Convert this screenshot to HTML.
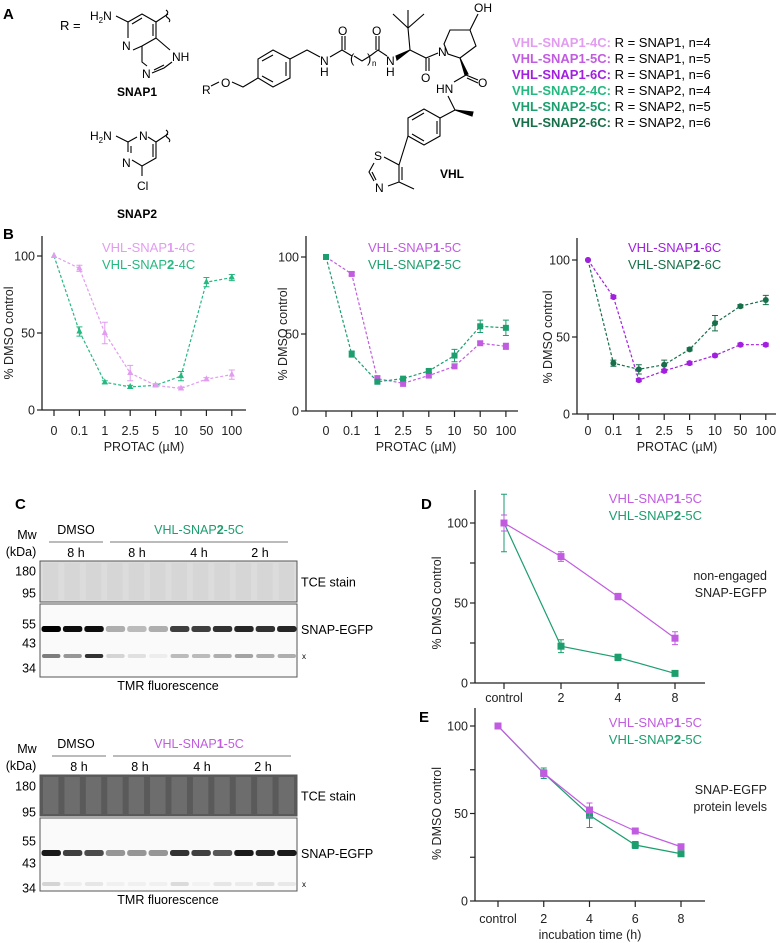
<!DOCTYPE html>
<html><head><meta charset="utf-8"><style>
html,body{margin:0;padding:0;background:#fff;}
svg{display:block;font-family:"Liberation Sans",Arial,sans-serif;}
</style></head><body>
<svg id="fig" width="780" height="943" viewBox="0 0 780 943">
<!-- Panel A -->
<g fill="none" stroke="#000" stroke-width="1.1">
<text x="3" y="19" font-size="15" font-weight="bold" fill="#000" stroke="none">A</text>
<text x="60" y="30" font-size="13" fill="#000" stroke="none">R =</text>
<!-- SNAP1 -->
<text x="90" y="20" font-size="12" fill="#000" stroke="none">H<tspan font-size="8" dy="3">2</tspan><tspan dy="-3">N</tspan></text>
<polyline points="116,16 128,22 128,38"/>
<polyline points="128,22 142,14 156,22 156,38 142,46"/>
<line x1="132" y1="24" x2="142" y2="18"/>
<line x1="153" y1="24" x2="153" y2="36"/>
<text x="122" y="50" font-size="12" fill="#000" stroke="none">N</text>
<polyline points="133,50 142,46"/>
<polyline points="142,46 142,62 147,66"/>
<polyline points="156,38 170,50"/>
<text x="172" y="61" font-size="12" fill="#000" stroke="none">NH</text>
<text x="142" y="78" font-size="12" fill="#000" stroke="none">N</text>
<polyline points="152,73 164,68 172,62"/>
<line x1="154" y1="70" x2="164" y2="65"/>
<path d="M156,22 L168,14 M166,10 q3,2 1,4 q-2,2 1,4 q3,2 1,4"/>
<text x="117" y="96" font-size="12" font-weight="bold" fill="#000" stroke="none">SNAP1</text>
<!-- SNAP2 -->
<text x="90" y="140" font-size="12" fill="#000" stroke="none">H<tspan font-size="8" dy="3">2</tspan><tspan dy="-3">N</tspan></text>
<polyline points="116,136 128,142 128,152"/>
<text x="139" y="140" font-size="12" fill="#000" stroke="none">N</text>
<polyline points="128,142 137,137"/>
<polyline points="148,137 156,142 156,158 142,166 132,160"/>
<line x1="153" y1="144" x2="153" y2="157"/>
<line x1="131" y1="146" x2="131" y2="153"/>
<text x="122" y="167" font-size="12" fill="#000" stroke="none">N</text>
<line x1="142" y1="166" x2="142" y2="176"/>
<text x="137" y="190" font-size="12" fill="#000" stroke="none">Cl</text>
<path d="M156,142 L168,134 M166,130 q3,2 1,4 q-2,2 1,4 q3,2 1,4"/>
<text x="117" y="218" font-size="12" font-weight="bold" fill="#000" stroke="none">SNAP2</text>
<!-- VHL linker -->
<text x="202" y="94" font-size="12" fill="#000" stroke="none">R</text>
<text x="221" y="87" font-size="12" fill="#000" stroke="none">O</text>
<polyline points="211,86 219,82"/>
<polyline points="232,82 243,87 258,78"/>
<polygon points="273,50 290,59 290,78 273,87 258,78 258,59"/>
<line x1="262" y1="61" x2="273" y2="55"/><line x1="286" y1="62" x2="286" y2="76"/><line x1="262" y1="76" x2="273" y2="82"/>
<polyline points="290,59 307,50 320,57"/>
<text x="320" y="65" font-size="12" fill="#000" stroke="none">N</text>
<text x="320" y="76" font-size="12" fill="#000" stroke="none">H</text>
<polyline points="330,57 342,50 352,56"/>
<line x1="342" y1="50" x2="342" y2="36"/><line x1="345" y1="50" x2="345" y2="36"/>
<text x="338" y="35" font-size="12" fill="#000" stroke="none">O</text>
<text x="350" y="63" font-size="13" fill="#000" stroke="none">(</text>
<polyline points="354,56 362,61 370,56"/>
<text x="367" y="63" font-size="13" fill="#000" stroke="none">)</text>
<text x="372" y="66" font-size="8" fill="#000" stroke="none">n</text>
<polyline points="370,56 378,50 387,56"/>
<line x1="376" y1="50" x2="376" y2="36"/><line x1="379" y1="50" x2="379" y2="36"/>
<text x="372" y="35" font-size="12" fill="#000" stroke="none">O</text>
<text x="386" y="65" font-size="12" fill="#000" stroke="none">N</text>
<text x="386" y="76" font-size="12" fill="#000" stroke="none">H</text>
<polygon points="396,56 410,50 397,60" fill="#000"/>
<polyline points="410,50 408,28"/>
<polyline points="393,14 408,28 424,14"/><line x1="408" y1="28" x2="408" y2="10"/>
<polyline points="410,50 426,58 438,53"/>
<line x1="426" y1="58" x2="426" y2="71"/><line x1="429" y1="58" x2="429" y2="71"/>
<text x="421" y="82" font-size="12" fill="#000" stroke="none">O</text>
<text x="438" y="56" font-size="12" fill="#000" stroke="none">N</text>
<polygon points="444,44 450,30 470,30 476,46 460,58 448,54"/>
<polyline points="470,30 478,14"/>
<text x="474" y="12" font-size="12" fill="#000" stroke="none">OH</text>
<polygon points="460,58 465,75 468,74" fill="#000"/>
<polyline points="466,75 478,80"/><line x1="467" y1="78" x2="478" y2="83"/>
<text x="478" y="87" font-size="12" fill="#000" stroke="none">O</text>
<text x="436" y="93" font-size="12" fill="#000" stroke="none">HN</text>
<polyline points="466,75 454,82"/>
<polyline points="448,96 455,110 440,118"/>
<polygon points="455,110 473,112 472,116" fill="#000"/>
<polygon points="440,118 440,136 424,145 408,136 408,118 424,109"/>
<line x1="424" y1="113" x2="412" y2="120"/><line x1="437" y1="121" x2="437" y2="134"/><line x1="412" y1="134" x2="424" y2="141"/>
<polyline points="408,136 399,165"/>
<text x="374" y="160" font-size="12" fill="#000" stroke="none">S</text>
<polyline points="384,157 399,165 399,182 388,186"/>
<line x1="402" y1="167" x2="402" y2="180"/>
<polyline points="374,163 369,172 374,181"/>
<line x1="372" y1="172" x2="376" y2="180"/>
<text x="375" y="192" font-size="12" fill="#000" stroke="none">N</text>
<polyline points="399,182 414,189"/>
<text x="440" y="178" font-size="12" font-weight="bold" fill="#000" stroke="none">VHL</text>
</g>
<g font-size="13">
<text x="512" y="47"><tspan font-weight="bold" fill="#e29cf0">VHL-SNAP1-4C:</tspan> R = SNAP1, n=4</text>
<text x="512" y="63"><tspan font-weight="bold" fill="#c15ce0">VHL-SNAP1-5C:</tspan> R = SNAP1, n=5</text>
<text x="512" y="79"><tspan font-weight="bold" fill="#a21fe0">VHL-SNAP1-6C:</tspan> R = SNAP1, n=6</text>
<text x="512" y="95"><tspan font-weight="bold" fill="#25b880">VHL-SNAP2-4C:</tspan> R = SNAP2, n=4</text>
<text x="512" y="111"><tspan font-weight="bold" fill="#1c9e6e">VHL-SNAP2-5C:</tspan> R = SNAP2, n=5</text>
<text x="512" y="127"><tspan font-weight="bold" fill="#176f4a">VHL-SNAP2-6C:</tspan> R = SNAP2, n=6</text>
</g>
<text x="3" y="239" font-size="15" font-weight="bold">B</text>
<text x="15" y="509" font-size="15" font-weight="bold">C</text>
<text x="421" y="509" font-size="15" font-weight="bold">D</text>
<text x="419" y="722" font-size="15" font-weight="bold">E</text>
<g id="charts"></g>
<g id="blots"></g>
</svg>
<script>
// ---- Panel B data ----
const bCats = ["0","0.1","1","2.5","5","10","50","100"];
const b1Snap1 = [100, 92, 50, 24, 16, 14, 20, 23];
const b1Snap1Err = [0, 2, 7, 5, 1, 1, 1, 3];
const b1Snap2 = [100, 51, 18, 15, 16, 22, 83, 86];
const b1Snap2Err = [0, 3, 1, 1, 1, 3, 3, 2];
const b2Snap1 = [100, 89, 21, 18, 23, 29, 44, 42];
const b2Snap1Err = [0, 1, 2, 2, 1, 1, 1, 2];
const b2Snap2 = [100, 37, 19, 21, 26, 36, 55, 54];
const b2Snap2Err = [0, 2, 1, 1, 1, 4, 4, 5];
const b3Snap1 = [100, 76, 22, 28, 33, 38, 45, 45];
const b3Snap1Err = [0, 1, 1, 1, 1, 1, 1, 1];
const b3Snap2 = [100, 33, 29, 32, 42, 59, 70, 74];
const b3Snap2Err = [0, 2, 3, 3, 1, 5, 1, 3];
const bTicks = [0, 50, 100];
// ---- Panel D data ----
const dCats = ["control","2","4","8"];
const dSnap1 = [100, 79, 54, 28];
const dSnap1Err = [5, 3, 2, 4];
const dSnap2 = [100, 23, 16, 6];
const dSnap2Err = [18, 4, 2, 1];
// ---- Panel E data ----
const eCats = ["control","2","4","6","8"];
const eSnap1 = [100, 73, 52, 40, 31];
const eSnap1Err = [0, 2, 4, 1, 1];
const eSnap2 = [100, 73, 49, 32, 27];
const eSnap2Err = [0, 3, 7, 2, 1];
const deTicks = [0, 50, 100];
const deMinor = [25, 75];

const NS = "http://www.w3.org/2000/svg";
const charts = document.getElementById('charts');
function mk(tag, attrs, parent, txt){
  const e = document.createElementNS(NS, tag);
  for (const k in attrs) e.setAttribute(k, attrs[k]);
  if (txt !== undefined) e.textContent = txt;
  parent.appendChild(e);
  return e;
}
function marker(g, shape, x, y, color, s){
  let m;
  if (shape === 'sq') m = mk('rect', {x:x-s, y:y-s, width:2*s, height:2*s, fill:color}, g);
  else if (shape === 'tri') m = mk('polygon', {points:`${x},${y-s-1} ${x+s},${y+s-1} ${x-s},${y+s-1}`, fill:color}, g);
  else m = mk('circle', {cx:x, cy:y, r:s, fill:color}, g);
  
  
}
function chart(cfg){
  const g = mk('g', {}, charts);
  
  
  const yS = v => cfg.y0 - (v / 100) * (cfg.y0 - cfg.y100);
  const xS = i => cfg.xFirst + i * cfg.xStep;
  const ya = mk('line', {x1:cfg.ax, y1:cfg.yTop, x2:cfg.ax, y2:cfg.y0, stroke:'#222', 'stroke-width':1.3}, g);
   
  const xa = mk('line', {x1:cfg.ax, y1:cfg.y0, x2:cfg.xEnd, y2:cfg.y0, stroke:'#222', 'stroke-width':1.3}, g);
   
  cfg.ticks.forEach(t => {
    mk('line', {x1:cfg.ax-5, y1:yS(t), x2:cfg.ax, y2:yS(t), stroke:'#222', 'stroke-width':1.2}, g);
    const tl = mk('text', {x:cfg.ax-7, y:yS(t)+4.5, 'text-anchor':'end', 'font-size':12.5, fill:'#222'}, g, String(t));
     
  });
  (cfg.minor||[]).forEach(t => mk('line', {x1:cfg.ax-5, y1:yS(t), x2:cfg.ax, y2:yS(t), stroke:'#222', 'stroke-width':1.2}, g));
  cfg.cats.forEach((c, i) => {
    mk('line', {x1:xS(i), y1:cfg.y0, x2:xS(i), y2:cfg.y0+6, stroke:'#222', 'stroke-width':1.2}, g);
    const xl = mk('text', {x:xS(i), y:cfg.xLabY, 'text-anchor':'middle', 'font-size':12.5, fill:'#222'}, g, c);
     
  });
  if (cfg.xTitle) {
    const xt = mk('text', {x:cfg.xTitleX, y:cfg.xTitleY, 'text-anchor':'middle', 'font-size':12.5, fill:'#222'}, g, cfg.xTitle);
     
  }
  const cy = (cfg.y0 + cfg.y100) / 2;
  const yt = mk('text', {x:0, y:0, transform:`translate(${cfg.yTitleX},${cy}) rotate(-90)`, 'text-anchor':'middle', 'font-size':12.5, fill:'#222'}, g, '% DMSO control');
   
  cfg.series.forEach(s => {
    const sg = mk('g', {}, g);
    
    
    const pts = s.vals.map((v, i) => `${xS(i)},${yS(v)}`).join(' ');
    const attrs = {points:pts, fill:'none', stroke:s.color, 'stroke-width':1.2};
    if (cfg.dashed) attrs['stroke-dasharray'] = '3,2';
    mk('polyline', attrs, sg);
    s.vals.forEach((v, i) => {
      const e = s.err[i];
      if (e > 0) {
        const x = xS(i);
        mk('path', {d:`M${x},${yS(v-e)}V${yS(v+e)}M${x-3},${yS(v-e)}h6M${x-3},${yS(v+e)}h6`, stroke:s.color, 'stroke-width':1, fill:'none'}, sg);
      }
      marker(sg, s.shape, xS(i), yS(v), s.color, cfg.ms);
    });
  });
  cfg.legend.forEach((l, k) => {
    const lt = mk('text', {x:cfg.legX, y:cfg.legY + k*17, 'text-anchor':cfg.legAnchor, 'font-size':13, fill:l.color}, g);
    lt.innerHTML = l.html;
     
  });
  (cfg.notes||[]).forEach((n, k) => {
    const nt = mk('text', {x:767, y:cfg.noteY + k*17, 'text-anchor':'end', 'font-size':12.5, fill:'#222'}, g, n);
     
  });
}
const P1a='#e29cf0', P1b='#c15ce0', P1c='#a21fe0', G2a='#25b880', G2b='#1c9e6e', G2c='#176f4a';
const lg = (n, num, c) => `VHL-SNAP<tspan font-weight="bold">${num}</tspan>-${c}`;
const bBase = {ticks:bTicks, cats:bCats, dashed:true, ms:3, xLabY:435, xTitle:'PROTAC (µM)', xTitleY:451, legAnchor:'start'};
chart(Object.assign({}, bBase, {name:'chart-b-4c', ax:42, yTop:236, y0:410, y100:256, xFirst:54, xStep:25.4, xEnd:246, xTitleX:144, yTitleX:13,
  series:[{name:'series-snap2-4c', vals:b1Snap2, err:b1Snap2Err, color:G2a, shape:'tri'},{name:'series-snap1-4c', vals:b1Snap1, err:b1Snap1Err, color:P1a, shape:'tri'}],
  legX:102, legY:252, legend:[{color:P1a, html:lg('',1,'4C')},{color:G2a, html:lg('',2,'4C')}]}));
chart(Object.assign({}, bBase, {name:'chart-b-5c', ax:306, yTop:236, y0:411, y100:257, xFirst:326, xStep:25.7, xEnd:518, xTitleX:416, yTitleX:287,
  series:[{name:'series-snap1-5c', vals:b2Snap1, err:b2Snap1Err, color:P1b, shape:'sq'},{name:'series-snap2-5c', vals:b2Snap2, err:b2Snap2Err, color:G2b, shape:'sq'}],
  legX:368, legY:252, legend:[{color:P1b, html:lg('',1,'5C')},{color:G2b, html:lg('',2,'5C')}]}));
chart(Object.assign({}, bBase, {name:'chart-b-6c', ax:577, yTop:238, y0:414, y100:260, xFirst:588, xStep:25.4, xEnd:776, xTitleX:677, yTitleX:552,
  series:[{name:'series-snap2-6c', vals:b3Snap2, err:b3Snap2Err, color:G2c, shape:'ci'},{name:'series-snap1-6c', vals:b3Snap1, err:b3Snap1Err, color:P1c, shape:'ci'}],
  legX:628, legY:252, legend:[{color:P1c, html:lg('',1,'6C')},{color:G2c, html:lg('',2,'6C')}]}));
chart({name:'chart-d', ticks:deTicks, minor:deMinor, cats:dCats, dashed:false, ms:3.5, ax:475, yTop:490, y0:683, y100:523, xFirst:504, xStep:57, xEnd:705, xLabY:702, yTitleX:441, legAnchor:'end', legX:702, legY:503,
  series:[{name:'series-snap2-5c', vals:dSnap2, err:dSnap2Err, color:G2b, shape:'sq'},{name:'series-snap1-5c', vals:dSnap1, err:dSnap1Err, color:P1b, shape:'sq'}],
  legend:[{color:P1b, html:lg('',1,'5C')},{color:G2b, html:lg('',2,'5C')}], notes:['non-engaged','SNAP-EGFP'], noteY:580});
chart({name:'chart-e', ticks:deTicks, minor:deMinor, cats:eCats, dashed:false, ms:3.5, ax:475, yTop:708, y0:901, y100:726, xFirst:498, xStep:45.75, xEnd:705, xLabY:923, xTitle:'incubation time (h)', xTitleX:590, xTitleY:939, yTitleX:441, legAnchor:'end', legX:702, legY:727,
  series:[{name:'series-snap2-5c', vals:eSnap2, err:eSnap2Err, color:G2b, shape:'sq'},{name:'series-snap1-5c', vals:eSnap1, err:eSnap1Err, color:P1b, shape:'sq'}],
  legend:[{color:P1b, html:lg('',1,'5C')},{color:G2b, html:lg('',2,'5C')}], notes:['SNAP-EGFP','protein levels'], noteY:794});

// ---- Panel C blots ----
const blot1Snap = [1.0, 0.95, 0.95, 0.3, 0.25, 0.3, 0.75, 0.75, 0.8, 0.85, 0.8, 0.85];
const blot1X = [0.5, 0.4, 0.8, 0.15, 0.1, 0.05, 0.25, 0.25, 0.3, 0.35, 0.3, 0.3];
const blot2Snap = [0.9, 0.75, 0.7, 0.4, 0.4, 0.4, 0.8, 0.75, 0.65, 0.9, 0.85, 0.9];
const blot2X = [0.15, 0.05, 0.08, 0.04, 0.04, 0.04, 0.12, 0.03, 0.08, 0.06, 0.1, 0.07];
const blots = document.getElementById('blots');
function blot(b){
  const g = mk('g', {}, blots);
  
  
  const L = 40, R = 297, lw = (R - L) / 12;
  mk('text', {x:76, y:b.hy, 'text-anchor':'middle', 'font-size':12.5}, g, 'DMSO');
  const ht = mk('text', {x:199, y:b.hy, 'text-anchor':'middle', 'font-size':12.5, fill:b.color}, g);
  ht.innerHTML = `VHL-SNAP<tspan font-weight="bold">${b.num}</tspan>-5C`;
  mk('line', {x1:49+b.dx, y1:b.hy+8, x2:103+b.dx, y2:b.hy+8, stroke:'#777'}, g);
  mk('line', {x1:110+b.dx, y1:b.hy+8, x2:288+b.dx, y2:b.hy+8, stroke:'#777'}, g);
  [['8 h',76],['8 h',137],['4 h',199],['2 h',260]].forEach(([t,x]) => {
    mk('text', {x:x+b.dx, y:b.hy+23, 'text-anchor':'middle', 'font-size':12.5}, g, t);
    mk('line', {x1:x-27+b.dx, y1:b.hy+29, x2:x+27+b.dx, y2:b.hy+29, stroke:'#555'}, g);
  });
  mk('text', {x:27, y:b.hy+5, 'text-anchor':'middle', 'font-size':12.5}, g, 'Mw');
  mk('text', {x:21, y:b.hy+22, 'text-anchor':'middle', 'font-size':12.5}, g, '(kDa)');
  mk('rect', {x:L, y:b.tT, width:R-L, height:b.tB-b.tT, fill:b.tceBg, stroke:'#555'}, g);
  for (let i = 0; i < 12; i++) {
    mk('rect', {x:L+i*lw+3, y:b.tT+2, width:lw-6, height:b.tB-b.tT-4, fill:b.tceLane, opacity:0.6}, g);
  }
  mk('rect', {x:L, y:b.fT, width:R-L, height:b.fB-b.fT, fill:'#fafafa', stroke:'#555'}, g);
  b.snap.forEach((v, i) => {
    const band = mk('rect', {x:L+i*lw+1.5, y:b.sy-3, width:lw-2, height:6, rx:2.5, fill:'#000', opacity:v}, g);
    
    
  });
  b.xb.forEach((v, i) => mk('rect', {x:L+i*lw+2, y:b.xy-2, width:lw-3, height:4, rx:2, fill:'#000', opacity:v}, g));
  b.mw.forEach(([t, y]) => mk('text', {x:36, y:y+4.5, 'text-anchor':'end', 'font-size':12.5}, g, t));
  mk('text', {x:301, y:(b.tT+b.tB)/2+5, 'font-size':12.5}, g, 'TCE stain');
  mk('text', {x:301, y:b.sy+5, 'font-size':12.5}, g, 'SNAP-EGFP');
  mk('text', {x:302, y:b.xy+3, 'font-size':8}, g, 'x');
  mk('text', {x:168, y:b.fB+13, 'text-anchor':'middle', 'font-size':12.5}, g, 'TMR fluorescence');
}
blot({name:'blot-snap2', num:2, color:'#1c9e6e', dx:0, hy:534, tT:561, tB:602, fT:604, fB:677, sy:629, xy:656,
  tceBg:'#dcdcdc', tceLane:'#d2d2d2', snap:blot1Snap, xb:blot1X, mw:[['180',571],['95',593],['55',624],['43',643],['34',668]]});
blot({name:'blot-snap1', num:1, color:'#c15ce0', dx:3, hy:748, tT:775, tB:816, fT:818, fB:891, sy:853, xy:884,
  tceBg:'#5a5a5a', tceLane:'#7a7a7a', snap:blot2Snap, xb:blot2X, mw:[['180',786],['95',812],['55',841],['43',863],['34',888]]});
</script>
</body></html>
